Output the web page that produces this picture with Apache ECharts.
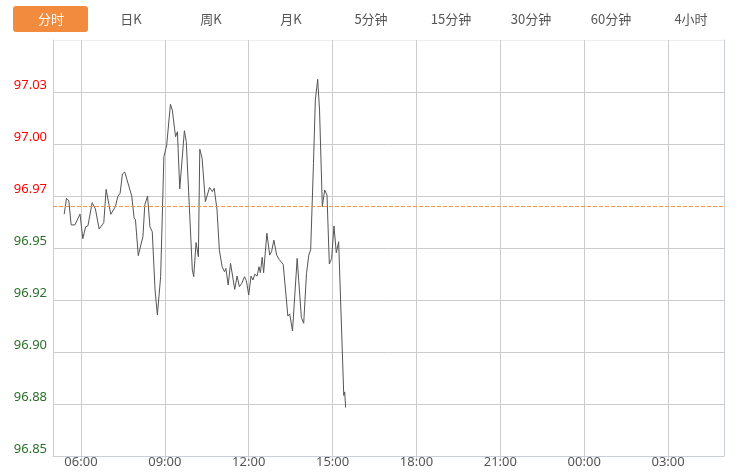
<!DOCTYPE html>
<html>
<head>
<meta charset="utf-8">
<script src="https://cdn.jsdelivr.net/npm/echarts@6/dist/echarts.min.js"></script>
<style>
html,body{margin:0;padding:0;background:#fff;}
#chart{width:739px;height:474px;}
</style>
</head>
<body>
<div id="chart"></div>
<script>
// ---- data ----
var tabs = ['分时','日K','周K','月K','5分钟','15分钟','30分钟','60分钟','4小时'];
var yTickLabels = ['96.85','96.88','96.90','96.92','96.95','96.97','97.00','97.03',''];
var xTickLabels = ['06:00','09:00','12:00','15:00','18:00','21:00','00:00','03:00'];
var prevClose = 96.9692;
var times = ['05:24','05:29','05:34','05:39','05:47','05:51','05:58','06:04','06:10','06:15',
  '06:24','06:31','06:34','06:39','06:49','06:54','07:04','07:14','07:19','07:24',
  '07:29','07:34','07:38','07:49','07:54','07:57','08:03','08:09','08:13','08:17',
  '08:23','08:28','08:33','08:39','08:44','08:51','08:58','09:04','09:12','09:16',
  '09:23','09:27','09:32','09:42','09:46','09:59','10:02','10:07','10:12','10:15',
  '10:20','10:27','10:36','10:42','10:46','10:52','10:57','11:03','11:08','11:11',
  '11:16','11:21','11:25','11:30','11:35','11:40','11:45','11:51','11:55','12:00',
  '12:05','12:09','12:13','12:18','12:22','12:25','12:29','12:32','12:39','12:45',
  '12:49','12:54','13:00','13:05','13:14','13:19','13:24','13:28','13:34','13:44',
  '13:53','13:58','14:04','14:09','14:13','14:19','14:23','14:28','14:32','14:38',
  '14:43','14:48','14:53','14:58','15:03','15:08','15:13','15:24','15:26','15:28'];
var prices = [96.9663,96.9739,96.9727,96.9611,96.9611,96.9602,96.9663,96.9545,96.9602,96.9607,
  96.9718,96.9688,96.9691,96.9591,96.9622,96.9782,96.9662,96.9699,96.9747,96.9763,
  96.9856,96.9865,96.9856,96.9750,96.9646,96.9635,96.9463,96.9519,96.9554,96.9707,
  96.9750,96.9602,96.9578,96.9298,96.9178,96.9362,96.9939,96.9995,97.0191,97.0163,
  97.0035,97.0059,96.9784,97.0064,97.0011,96.9394,96.9362,96.9526,96.9458,96.9975,
  96.9931,96.9723,96.9791,96.9771,96.9787,96.9683,96.9490,96.9410,96.9386,96.9402,
  96.9322,96.9426,96.9418,96.9301,96.9365,96.9314,96.9330,96.9362,96.9343,96.9274,
  96.9365,96.9346,96.9374,96.9365,96.9410,96.9381,96.9455,96.9381,96.9571,96.9466,
  96.9482,96.9538,96.9466,96.9446,96.9421,96.9298,96.9173,96.9183,96.9101,96.9450,
  96.9166,96.9138,96.9378,96.9466,96.9492,96.9907,97.0212,97.0311,97.0163,96.9699,
  96.9779,96.9755,96.9423,96.9450,96.9606,96.9477,96.9530,96.8791,96.8808,96.8733];

// ---- axis domain: every minute from 05:00 to 05:00 next day ----
function pad(n){return (n<10?'0':'')+n;}
var categories = [];
for (var m = 0; m <= 1440; m++) {
  var h = (5 + Math.floor(m/60)) % 24;
  categories.push(pad(h)+':'+pad(m%60));
}
function isTick(idx, val){ return xTickLabels.indexOf(val) >= 0; }

var seriesData = times.map(function(t,i){return [t, prices[i]];});

var graphics = [{
  type:'rect', shape:{x:13,y:6,width:75,height:26,r:3},
  style:{fill:'#f28b3d'}
}];
tabs.forEach(function(t,i){
  graphics.push({
    type:'text', x:51+i*80, y:19,
    style:{text:t, fill:i===0?'#ffffff':'#555555', font:'13px "Noto Sans CJK SC", "Microsoft YaHei", sans-serif',
      textAlign:'center', textVerticalAlign:'middle'}
  });
});

var chart = echarts.init(document.getElementById('chart'), null, {renderer:'canvas'});
chart.setOption({
  animation:false,
  backgroundColor:'#fff',
  graphic: graphics,
  grid:{left:53, right:15, top:40, bottom:18, containLabel:false},
  xAxis:{
    type:'category', data:categories, boundaryGap:false,
    axisLine:{show:true, lineStyle:{color:'#c9ced8', width:1}},
    axisTick:{show:true, interval:isTick, length:3, lineStyle:{color:'#cccccc'}},
    axisLabel:{interval:isTick, color:'#555', fontSize:13, margin:0, lineHeight:13,
      fontFamily:'"Noto Sans", "DejaVu Sans", sans-serif'},
    splitLine:{show:true, interval:isTick, lineStyle:{color:'#cccccc', width:1}}
  },
  yAxis:[{
    type:'value', min:96.85, max:97.05, interval:0.025, position:'left',
    axisLine:{show:true, lineStyle:{color:'#c9ced8', width:1}},
    axisTick:{show:false},
    axisLabel:{
      margin:6, fontSize:13, lineHeight:13, verticalAlign:'bottom',
      fontFamily:'"Noto Sans", "DejaVu Sans", sans-serif',
      formatter:function(v, i){ return yTickLabels[i] !== undefined ? yTickLabels[i] : ''; },
      color:function(v){ return v > prevClose ? '#ff0000' : '#2a6e2a'; }
    },
    splitLine:{show:true, lineStyle:{color:['#cccccc','#cccccc','#cccccc','#cccccc','#cccccc','#cccccc','#cccccc','#cccccc','#eeeeee'], width:1}}
  },{
    type:'value', min:96.85, max:97.05, interval:0.025, position:'right',
    axisLine:{show:true, lineStyle:{color:'#c9ced8', width:1}},
    axisTick:{show:false}, axisLabel:{show:false}, splitLine:{show:false}
  }],
  series:[{
    type:'line', data:seriesData, yAxisIndex:0,
    showSymbol:false, symbol:'none',
    lineStyle:{color:'#555555', width:1},
    markLine:{
      silent:true, symbol:['none','none'], label:{show:false},
      lineStyle:{color:'#f5924a', type:[4,2], width:1},
      data:[{yAxis:prevClose}]
    }
  }]
});
</script>
</body>
</html>
